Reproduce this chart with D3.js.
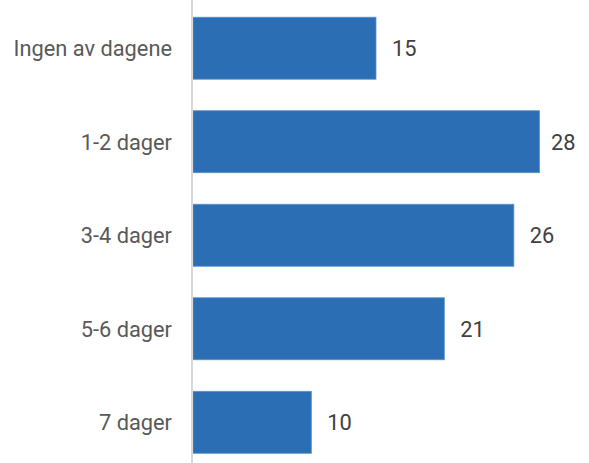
<!DOCTYPE html>
<html>
<head>
<meta charset="utf-8">
<script src="https://cdn.jsdelivr.net/npm/d3@7"></script>
<style>
  html, body { margin: 0; padding: 0; background: #fff; }
  svg { display: block; }
</style>
</head>
<body>
<div id="chart"></div>
<script>
const categories = ["Ingen av dagene", "1-2 dager", "3-4 dager", "5-6 dager", "7 dager"];
const values = [15.0, 28.4, 26.3, 20.6, 9.7];

const W = 589, H = 463;
const x0 = 193;
const svg = d3.select("#chart").append("svg").attr("width", W).attr("height", H);

const x = d3.scaleLinear().domain([0, 10]).range([x0, x0 + 122]);
const y = d3.scaleBand().domain(categories).range([1.5, 469]).paddingInner(0.337).paddingOuter(0.168);

const font = "Roboto, 'Noto Sans', sans-serif";
const fs = 21.8;

svg.selectAll("rect.bar").data(values).join("rect")
  .attr("class", "bar")
  .attr("x", x(0))
  .attr("y", (d, i) => y(categories[i]))
  .attr("width", d => x(d) - x(0))
  .attr("height", y.bandwidth())
  .attr("fill", "#2b6eb4")
  .attr("stroke", "#5a93cf")
  .attr("stroke-width", 0.8);

// axis line
svg.append("line")
  .attr("x1", 192).attr("x2", 192)
  .attr("y1", 0).attr("y2", H)
  .attr("stroke", "#d9d9d9").attr("stroke-width", 2);

// category labels
svg.selectAll("text.cat").data(categories).join("text")
  .attr("class", "cat")
  .attr("x", 172)
  .attr("y", d => y(d) + y.bandwidth() / 2)
  .attr("dy", "0.36em")
  .attr("text-anchor", "end")
  .attr("font-family", font)
  .attr("font-size", fs)
  .attr("fill", "#595959")
  .text(d => d);

// value labels
const fmt = d3.format(".0f");
svg.selectAll("text.val").data(values).join("text")
  .attr("class", "val")
  .attr("x", d => Math.min(x(d) + 16, 551))
  .attr("y", (d, i) => y(categories[i]) + y.bandwidth() / 2)
  .attr("dy", "0.36em")
  .attr("text-anchor", "start")
  .attr("font-family", font)
  .attr("font-size", fs)
  .attr("fill", "#404040")
  .text(d => fmt(d));
</script>
</body>
</html>
